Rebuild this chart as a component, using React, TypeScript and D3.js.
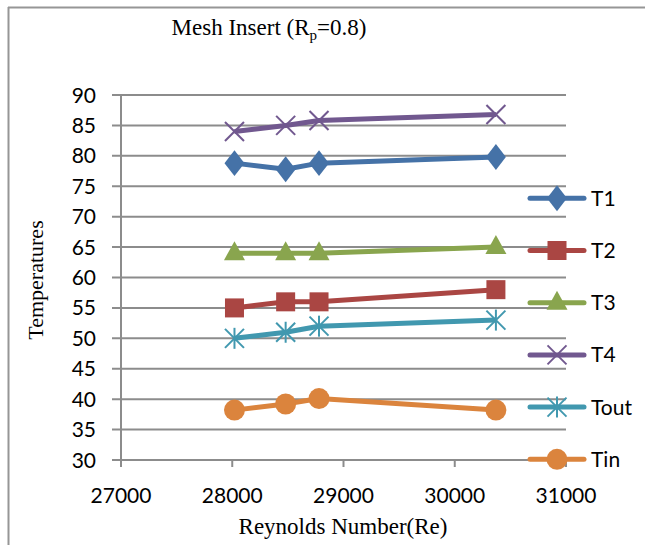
import React from "react";
import * as d3 from "d3";

const reynolds = [28020, 28480, 28780, 30370];
const t1 = [78.8, 77.8, 78.8, 79.8];
const t2 = [55, 56, 56, 58];
const t3 = [64, 64, 64, 65];
const t4 = [84, 85, 85.8, 86.8];
const tOut = [50, 51, 52, 53];
const tIn = [38.2, 39.2, 40.1, 38.2];
const seriesNames = ["T1", "T2", "T3", "T4", "Tout", "Tin"];
const seriesColors = ["#4572A7", "#AA4643", "#89A54E", "#71588F", "#4198AF", "#DB843D"];
const seriesMarkers = ["diamond", "square", "triangle", "cross", "star", "circle"];
const yTicks = [30, 35, 40, 45, 50, 55, 60, 65, 70, 75, 80, 85, 90];
const xTicks = [27000, 28000, 29000, 30000, 31000];

const W = 645;
const H = 545;
const plot = { left: 121, right: 566, top: 95, bottom: 460 };

const x = d3.scaleLinear().domain([27000, 31000]).range([plot.left, plot.right]);
const y = d3.scaleLinear().domain([30, 90]).range([plot.bottom, plot.top]);

const seriesValues = [t1, t2, t3, t4, tOut, tIn];

const serif = "'Liberation Serif', 'Times New Roman', serif";
const sans = "Lato, 'Open Sans', sans-serif";

function Marker({ kind, cx, cy, color }: { kind: string; cx: number; cy: number; color: string }) {
  if (kind === "diamond") {
    const p = d3.symbol().type(d3.symbolDiamond).size(240)();
    return <path d={p as string} transform={`translate(${cx},${cy}) scale(1.2,0.9)`} fill={color} />;
  }
  if (kind === "square") {
    return <rect x={cx - 9.5} y={cy - 9.5} width={19} height={19} fill={color} />;
  }
  if (kind === "triangle") {
    const pts = [[cx, cy - 12], [cx + 10.5, cy + 7], [cx - 10.5, cy + 7]];
    return <polygon points={pts.map((p) => p.join(",")).join(" ")} fill={color} />;
  }
  if (kind === "circle") {
    return <circle cx={cx} cy={cy} r={10.5} fill={color} />;
  }
  if (kind === "cross") {
    const r = 9.5;
    return (
      <g stroke={color} strokeWidth={2}>
        <line x1={cx - r} y1={cy - r} x2={cx + r} y2={cy + r} />
        <line x1={cx - r} y1={cy + r} x2={cx + r} y2={cy - r} />
      </g>
    );
  }
  // asterisk
  const r = 9.5;
  return (
    <g stroke={color} strokeWidth={2}>
      <line x1={cx - r} y1={cy - r} x2={cx + r} y2={cy + r} />
      <line x1={cx - r} y1={cy + r} x2={cx + r} y2={cy - r} />
      <line x1={cx} y1={cy - r - 1} x2={cx} y2={cy + r + 1} />
    </g>
  );
}

export default function App() {
  const line = d3
    .line<[number, number]>()
    .x((d) => x(d[0]))
    .y((d) => y(d[1]));

  const legendTop = 198.3;
  const legendStep = 52.2;

  return (
    <svg
      width={W}
      height={H}
      style={{ position: "absolute", left: 0, top: 0, background: "#fff" }}
    >
      <rect x={0} y={0} width={W} height={H} fill="#fff" />
      {/* outer frame */}
      <line x1={8} y1={7.5} x2={W} y2={7.5} stroke="#969696" strokeWidth={2} />
      <line x1={8.5} y1={7} x2={8.5} y2={H} stroke="#969696" strokeWidth={2} />

      <text x={269} y={35} textAnchor="middle" fontFamily={serif} fontSize={23} fill="#000">
        Mesh Insert (R<tspan fontSize={15} dy={5}>p</tspan>
        <tspan dy={-5}>=0.8)</tspan>
      </text>

      {/* gridlines and y ticks */}
      {yTicks.map((t) => (
        <g key={t}>
          <line x1={112} x2={plot.right} y1={y(t)} y2={y(t)} stroke="#8c8c8c" strokeWidth={2} />
          <text x={96} y={y(t)} dy="0.36em" textAnchor="end" fontFamily={sans} fontSize={21} fill="#000">
            {t}
          </text>
        </g>
      ))}
      {/* y axis */}
      <line x1={plot.left} x2={plot.left} y1={plot.top} y2={plot.bottom + 7} stroke="#8c8c8c" strokeWidth={2} />
      {/* x ticks */}
      {xTicks.map((t) => (
        <g key={t}>
          <line x1={x(t)} x2={x(t)} y1={plot.bottom} y2={plot.bottom + 7} stroke="#8c8c8c" strokeWidth={2} />
          <text x={x(t)} y={503} textAnchor="middle" fontFamily={sans} fontSize={21} fill="#000">
            {t}
          </text>
        </g>
      ))}

      {/* series */}
      {seriesValues.map((vals, i) => {
        const pts = reynolds.map((r, j) => [r, vals[j]] as [number, number]);
        return (
          <g key={seriesNames[i]}>
            <path d={line(pts) as string} fill="none" stroke={seriesColors[i]} strokeWidth={5} strokeLinejoin="round" />
            {pts.map((p, j) => (
              <Marker key={j} kind={seriesMarkers[i]} cx={x(p[0])} cy={y(p[1])} color={seriesColors[i]} />
            ))}
          </g>
        );
      })}

      {/* legend */}
      {seriesNames.map((name, i) => {
        const ly = legendTop + i * legendStep;
        return (
          <g key={name}>
            <line x1={530} x2={584} y1={ly} y2={ly} stroke={seriesColors[i]} strokeWidth={5} strokeLinecap="round" />
            <Marker kind={seriesMarkers[i]} cx={557} cy={ly} color={seriesColors[i]} />
            <text x={591} y={ly} dy="0.36em" fontFamily={sans} fontSize={21} fill="#000">
              {name}
            </text>
          </g>
        );
      })}

      <text x={343} y={534} textAnchor="middle" fontFamily={serif} fontSize={23} fill="#000">
        Reynolds Number(Re)
      </text>
      <text
        transform={`translate(43,280) rotate(-90)`}
        textAnchor="middle"
        fontFamily={serif}
        fontSize={22}
        fill="#000"
      >
        Temperatures
      </text>
    </svg>
  );
}
